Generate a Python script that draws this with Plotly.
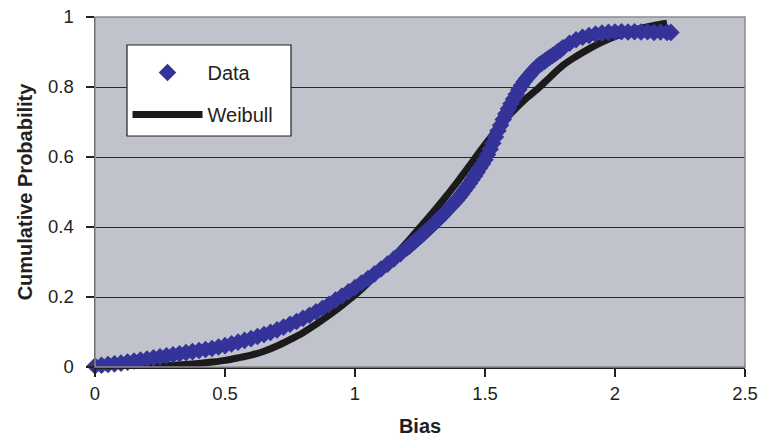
import plotly.graph_objects as go

data_bias = [0.000, 0.025, 0.050, 0.075, 0.100, 0.125, 0.150, 0.175, 0.200, 0.225,
             0.250, 0.275, 0.300, 0.325, 0.350, 0.375, 0.400, 0.425, 0.450, 0.475,
             0.500, 0.525, 0.550, 0.575, 0.600, 0.625, 0.650, 0.675, 0.700, 0.725,
             0.750, 0.775, 0.800, 0.825, 0.850, 0.875, 0.900, 0.925, 0.950, 0.975,
             1.000, 1.025, 1.050, 1.075, 1.100, 1.125, 1.150, 1.175, 1.200,
             1.21, 1.22, 1.23, 1.24, 1.25, 1.26, 1.27, 1.28, 1.29, 1.30,
             1.31, 1.32, 1.33, 1.34, 1.35, 1.36, 1.37, 1.38, 1.39, 1.40,
             1.41, 1.42, 1.43, 1.44, 1.45, 1.46, 1.47, 1.48, 1.49, 1.50,
             1.51, 1.52, 1.53, 1.54, 1.55, 1.56, 1.57, 1.58, 1.59, 1.60,
             1.61, 1.62, 1.63, 1.64, 1.65, 1.66, 1.67, 1.68, 1.69, 1.70,
             1.71, 1.72, 1.73, 1.74, 1.75, 1.76, 1.77, 1.78, 1.79, 1.80,
             1.825, 1.850, 1.875, 1.900, 1.925, 1.950, 1.975,
             2.000, 2.025, 2.050, 2.075, 2.100, 2.125, 2.150, 2.175, 2.200, 2.215]
data_prob = [0.003, 0.005, 0.007, 0.009, 0.011, 0.014, 0.017, 0.020, 0.023, 0.026,
             0.029, 0.032, 0.035, 0.038, 0.041, 0.044, 0.047, 0.050, 0.053, 0.057,
             0.061, 0.066, 0.071, 0.076, 0.081, 0.087, 0.093, 0.099, 0.106, 0.114,
             0.122, 0.130, 0.139, 0.148, 0.158, 0.168, 0.179, 0.191, 0.203, 0.215,
             0.227, 0.240, 0.253, 0.266, 0.280, 0.294, 0.309, 0.324, 0.340,
             0.346, 0.353, 0.359, 0.366, 0.372, 0.379, 0.386, 0.393, 0.400, 0.407,
             0.414, 0.421, 0.429, 0.436, 0.444, 0.452, 0.460, 0.468, 0.476, 0.485,
             0.494, 0.504, 0.514, 0.524, 0.535, 0.546, 0.557, 0.569, 0.580, 0.592,
             0.607, 0.622, 0.639, 0.657, 0.675, 0.691, 0.707, 0.723, 0.738, 0.752,
             0.766, 0.779, 0.792, 0.804, 0.815, 0.824, 0.833, 0.842, 0.850, 0.858,
             0.864, 0.869, 0.874, 0.880, 0.885, 0.890, 0.895, 0.901, 0.906, 0.912,
             0.925, 0.935, 0.942, 0.947, 0.951, 0.954, 0.956,
             0.957, 0.958, 0.957, 0.958, 0.957, 0.958, 0.956, 0.957, 0.956, 0.956]

# Fitted Weibull CDF
weib_bias = [0.00, 0.05, 0.10, 0.15, 0.20, 0.25, 0.30, 0.35, 0.40, 0.45,
             0.50, 0.55, 0.60, 0.65, 0.70, 0.75, 0.80, 0.85, 0.90, 0.95,
             1.00, 1.05, 1.10, 1.15, 1.20, 1.25, 1.30, 1.35, 1.40, 1.45,
             1.50, 1.55, 1.60, 1.65, 1.70, 1.75, 1.80, 1.85, 1.90, 1.95,
             2.00, 2.05, 2.10, 2.15, 2.20]
weib_prob = [0.000, 0.000, 0.001, 0.001, 0.002, 0.003, 0.005, 0.007, 0.010, 0.014,
             0.019, 0.026, 0.034, 0.045, 0.060, 0.078, 0.098, 0.122, 0.148, 0.176,
             0.206, 0.240, 0.276, 0.315, 0.356, 0.399, 0.442, 0.487, 0.535, 0.585,
             0.635, 0.682, 0.725, 0.762, 0.793, 0.828, 0.862, 0.887, 0.909, 0.928,
             0.944, 0.957, 0.968, 0.976, 0.982]

x_ticks = [0, 0.5, 1, 1.5, 2, 2.5]
x_labels = ["0", "0.5", "1", "1.5", "2", "2.5"]
y_ticks = [0, 0.2, 0.4, 0.6, 0.8, 1]
y_labels = ["0", "0.2", "0.4", "0.6", "0.8", "1"]

FONT = "Liberation Sans, Arial, sans-serif"
BLUE = "#333399"
INK = "#231f20"

fig = go.Figure()
fig.add_trace(go.Scatter(
    x=weib_bias, y=weib_prob, mode="lines", name="Weibull",
    line=dict(color="#1c1a1a", width=7, shape="spline"),
    legendgroup="w", legendrank=2, cliponaxis=False,
))
fig.add_trace(go.Scatter(
    x=data_bias, y=data_prob, mode="markers", name="Data",
    marker=dict(symbol="diamond", size=13.5, color=BLUE, line=dict(width=0)),
    legendgroup="d", legendrank=1, cliponaxis=False,
))

fig.update_layout(
    width=761, height=438,
    margin=dict(l=95, r=16, t=17, b=71),
    paper_bgcolor="white",
    plot_bgcolor="#c0c3cb",
    font=dict(family=FONT, size=18.5, color=INK),
    showlegend=True,
    legend=dict(
        x=0.05, y=0.897, xanchor="left", yanchor="top",
        bgcolor="rgba(0,0,0,0)", borderwidth=0,
        font=dict(size=20, family=FONT, color=INK),
        tracegroupgap=13, itemwidth=70,
    ),
    shapes=[
        dict(type="rect", xref="paper", yref="paper", x0=0, x1=1, y0=0, y1=1,
             line=dict(color="#8c8c8c", width=1.5), layer="above"),
        dict(type="rect", xref="paper", yref="paper",
             x0=32 / 650, x1=196 / 650, y0=(367 - 136) / 350, y1=(367 - 45) / 350,
             fillcolor="white", line=dict(color=INK, width=1.2), layer="above"),
    ],
)

fig.update_xaxes(
    range=[0, 2.5], tickvals=x_ticks, ticktext=x_labels,
    automargin=False, ticklabeloverflow="allow",
    showgrid=False, zeroline=False,
    showline=True, linecolor=INK, linewidth=1.5,
    ticks="outside", ticklen=8, tickwidth=1.2, tickcolor=INK,
    tickfont=dict(size=18.5), ticklabelstandoff=1,
    title=dict(text="<b>Bias</b>", font=dict(size=20), standoff=16),
)
fig.update_yaxes(
    range=[0, 1], tickvals=y_ticks, ticktext=y_labels,
    automargin=False, ticklabeloverflow="allow",
    showgrid=True, gridcolor="#2a2a2a", gridwidth=1,
    zeroline=False,
    showline=True, linecolor=INK, linewidth=1.5,
    ticks="outside", ticklen=8, tickwidth=1.2, tickcolor=INK,
    tickfont=dict(size=18.5), ticklabelstandoff=8,
    title=dict(text="<b>Cumulative Probability</b>", font=dict(size=20), standoff=10),
)

# remove the page's default body margin so the 761x438 figure fills the window exactly
fig.write_html(
    "out.html",
    config={"displayModeBar": False, "staticPlot": True},
    post_script="document.body.style.margin='0';document.body.style.overflow='hidden';",
)
